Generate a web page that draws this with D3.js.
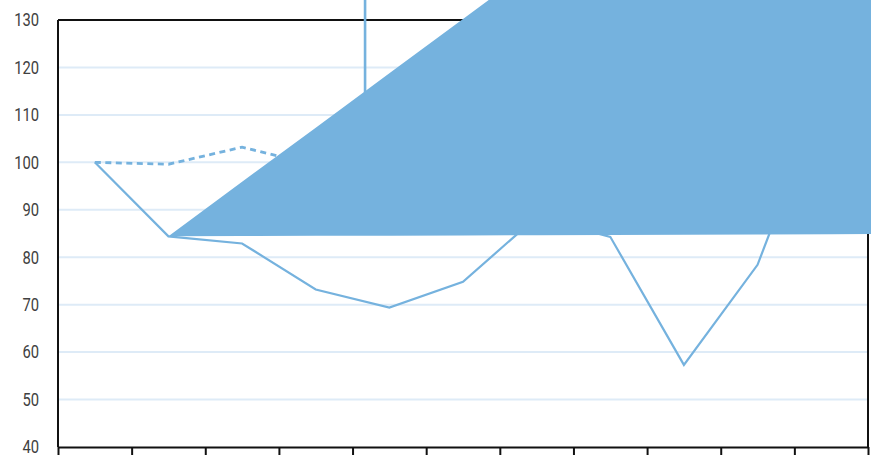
<!DOCTYPE html>
<html>
<head>
<meta charset="utf-8">
<script src="https://cdn.jsdelivr.net/npm/d3@7"></script>
<style>
  html, body { margin: 0; padding: 0; background: #fff; overflow: hidden; }
  svg { display: block; }
  .ylab { font-family: "Roboto", "DejaVu Sans Condensed", sans-serif; font-weight: 400; font-size: 18px; fill: #404040; }
</style>
</head>
<body>
<svg id="chart" width="871" height="455"></svg>
<script>
// Eleven periods along the x axis (no labels are shown under the ticks)
const categories = ["1", "2", "3", "4", "5", "6", "7", "8", "9", "10", "11"];

// Y axis ticks
const yTicks = [40, 50, 60, 70, 80, 90, 100, 110, 120, 130];

// Solid index series
const seriesSolid = [100, 84.4, 82.9, 73.2, 69.4, 74.8, 88.5, 84.3, 57.3, 78.4, 119];

// Dashed index series
const seriesDashed = [100, 99.6, 103.2, 99.4, 98, 96.5, 95, 94, 93, 95, 97];

// Filled band: period index, lower and upper bound
const bandIndex = [1, 2, 3, 4, 5, 6, 7, 8, 9, 10, 11];
const bandLower = [84.4, 84.45, 84.5, 84.55, 84.6, 84.65, 84.7, 84.75, 84.8, 84.85, 84.9];
const bandUpper = [84.4, 95.9, 107.3, 118.8, 130.2, 141.7, 153.2, 164.6, 176.1, 187.5, 199.0];

// Vertical marker line between periods 4 and 5
const spikeIndex = [3.67, 3.67];
const spikeValues = [112, 150];

const colorSeries = "#75b2de";
const colorGrid = "#deebf7";
const colorAxis = "#111";

const svg = d3.select("#chart");
const plotLeft = 58, plotRight = 868, plotTop = 20, plotBottom = 447;

// Positions by period index; each period occupies one band between ticks
const x = d3.scaleLinear().domain([-0.5, categories.length - 0.5]).range([plotLeft, plotRight]);
const y = d3.scaleLinear().domain([40, 130]).range([plotBottom, plotTop]);

// Horizontal gridlines
svg.append("g")
  .selectAll("line")
  .data(yTicks.filter(t => t > 40 && t < 130))
  .join("line")
  .attr("x1", plotLeft).attr("x2", plotRight)
  .attr("y1", d => y(d)).attr("y2", d => y(d))
  .attr("stroke", colorGrid).attr("stroke-width", 2);

// Y tick labels, narrowed horizontally
svg.append("g")
  .selectAll("text")
  .data(yTicks)
  .join("text")
  .attr("class", "ylab")
  .attr("transform", d => `translate(39,${y(d)}) scale(0.82,1)`)
  .attr("dy", "0.35em")
  .attr("text-anchor", "end")
  .text(d => d);

// Plot frame: top and right edges
svg.append("line")
  .attr("x1", plotLeft).attr("x2", plotRight)
  .attr("y1", y(130)).attr("y2", y(130))
  .attr("stroke", colorAxis).attr("stroke-width", 2);
svg.append("line")
  .attr("x1", plotRight).attr("x2", plotRight)
  .attr("y1", y(130)).attr("y2", y(40))
  .attr("stroke", colorAxis).attr("stroke-width", 2);

// Left axis line
svg.append("line")
  .attr("x1", plotLeft).attr("x2", plotLeft)
  .attr("y1", y(130)).attr("y2", y(40))
  .attr("stroke", colorAxis).attr("stroke-width", 2);

// Bottom axis with tick marks on period boundaries
const xAxis = d3.axisBottom(x)
  .tickValues(d3.range(-0.5, categories.length, 1))
  .tickFormat("")
  .tickSize(9)
  .tickSizeOuter(0);
const gx = svg.append("g")
  .attr("transform", `translate(0,${plotBottom})`)
  .call(xAxis);
gx.select(".domain").attr("stroke", colorAxis).attr("stroke-width", 2);
gx.selectAll(".tick line").attr("stroke", colorAxis).attr("stroke-width", 2);

// Series lines
const line = d3.line().x((d, i) => x(i)).y(d => y(d));

svg.append("path")
  .datum(seriesSolid)
  .attr("d", line)
  .attr("fill", "none")
  .attr("stroke", colorSeries)
  .attr("stroke-width", 2.2)
  .attr("stroke-linejoin", "miter");

svg.append("path")
  .datum(seriesDashed)
  .attr("d", line)
  .attr("fill", "none")
  .attr("stroke", colorSeries)
  .attr("stroke-width", 2.8)
  .attr("stroke-dasharray", "6,4.5");

svg.append("path")
  .datum(spikeIndex.map((v, i) => [v, spikeValues[i]]))
  .attr("d", d3.line().x(d => x(d[0])).y(d => y(d[1])))
  .attr("fill", "none")
  .attr("stroke", colorSeries)
  .attr("stroke-width", 2.6);

// Filled band, drawn over everything else
const area = d3.area()
  .x((d, i) => x(bandIndex[i]))
  .y0((d, i) => y(bandLower[i]))
  .y1((d, i) => y(bandUpper[i]));

svg.append("path")
  .datum(bandIndex)
  .attr("d", area)
  .attr("fill", colorSeries);
</script>
</body>
</html>
